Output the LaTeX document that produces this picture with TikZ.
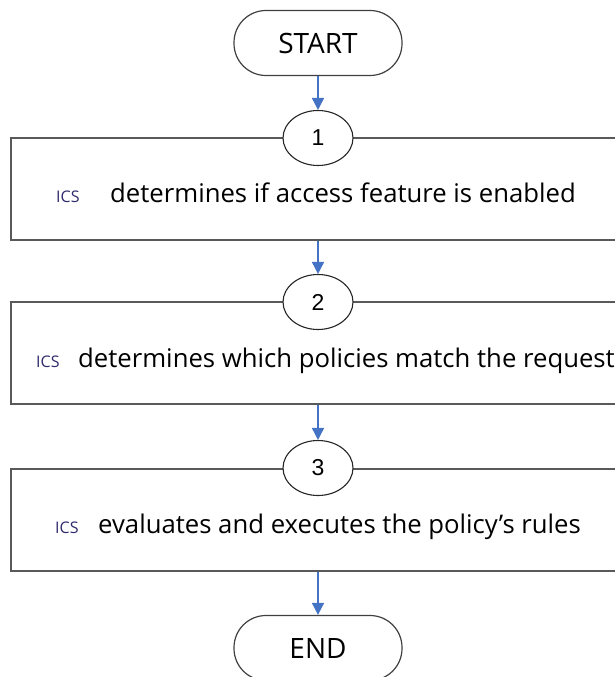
\documentclass[tikz,border=0pt]{standalone}
\usepackage{fontspec}
\setmainfont{Open Sans}
\newfontfamily\numfont{Liberation Sans}
\usetikzlibrary{shapes.geometric,arrows.meta}
\definecolor{azul}{HTML}{4472C4}
\definecolor{icscor}{HTML}{2E2A6B}
\begin{document}
\begin{tikzpicture}[x=1pt,y=-1pt,
  terminal/.style={draw=black!75,line width=1.2pt,rectangle,rounded corners=32pt,minimum width=168pt,minimum height=65pt,font=\fontsize{28}{30}\selectfont},
  passo/.style={draw=black!65,line width=2pt,rectangle,minimum width=629pt,minimum height=102pt},
  numero/.style={draw=black!85,line width=1.1pt,ellipse,fill=white,minimum width=70pt,minimum height=55pt,inner sep=0pt,font=\numfont\fontsize{23}{25}\selectfont},
  sigla/.style={anchor=base west,inner sep=0pt,text=icscor,font=\fontsize{16}{18}\selectfont},
  texto/.style={anchor=base west,inner sep=0pt,font=\fontsize{25.7}{28}\selectfont},
  seta/.style={-{Triangle[width=12pt,length=12pt]},draw=azul,line width=1.6pt}]
  \useasboundingbox (0,0) rectangle (615,677);
  \clip (0,0) rectangle (615,677);
  \node[terminal] (start) at (318,43) {START};
  \node[passo] (p1) at (325.5,189) {};
  \node[passo] (p2) at (325.5,353) {};
  \node[passo] (p3) at (325.5,519.5) {};
  \node[numero] (c1) at (318,138) {1};
  \node[numero] (c2) at (318,302) {2};
  \node[numero] (c3) at (318,468) {3};
  \node[terminal] (end) at (318,648) {END};
  \node[sigla] (s1) at (56,202) {ICS};
  \node[texto] (t1) at (110,202) {determines if access feature is enabled};
  \node[sigla] (s2) at (36,367) {ICS};
  \node[texto] (t2) at (78,367) {determines which policies match the request};
  \node[sigla] (s3) at (55,533) {ICS};
  \node[texto] (t3) at (98,533) {evaluates and executes the policy’s rules};
  \draw[seta] (start.south) -- (c1.north);
  \draw[seta] (c1 |- p1.south) -- (c2.north);
  \draw[seta] (c2 |- p2.south) -- (c3.north);
  \draw[seta] (c3 |- p3.south) -- (end.north);
\end{tikzpicture}
\end{document}
